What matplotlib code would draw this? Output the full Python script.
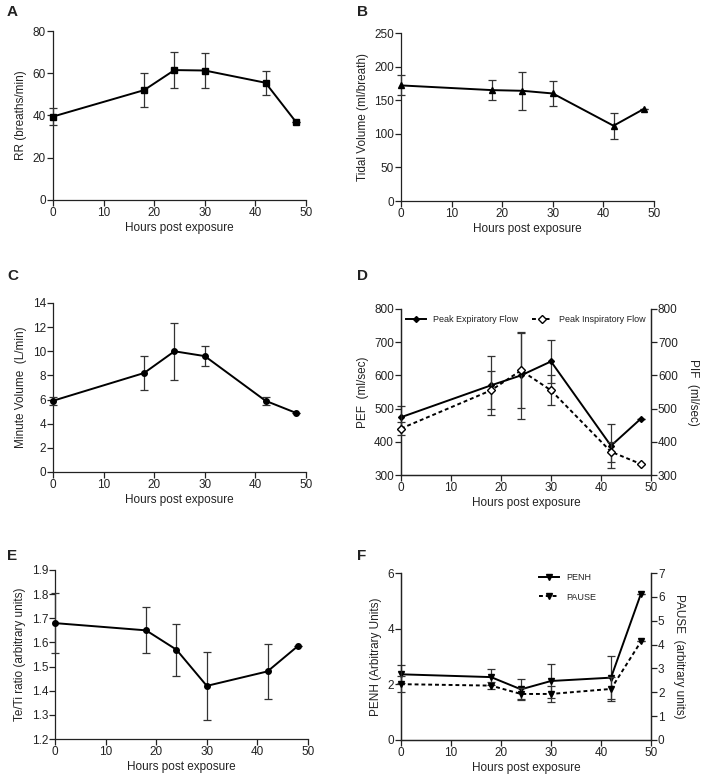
import matplotlib
matplotlib.use("Agg")
import matplotlib.pyplot as plt
from matplotlib.lines import Line2D

plt.rcParams["font.family"] = ["Liberation Sans", "DejaVu Sans"]
plt.rcParams["font.size"] = 8
plt.rcParams["text.color"] = "#222222"
plt.rcParams["axes.labelcolor"] = "#222222"

W, H = 702, 779

# Data
hours = [0, 18, 24, 30, 42, 48]

rr = [39.5, 52, 61.5, 61.3, 55.5, 37]
rr_err = [4, 8, 8.5, 8.3, 5.7, 0]

tv = [172, 165, 164, 160, 112, 137]
tv_err = [15, 15, 28.5, 18.5, 19.5, 0]

mv = [5.9, 8.2, 10.0, 9.6, 5.9, 4.9]
mv_err = [0.35, 1.4, 2.35, 0.83, 0.35, 0]

pef = [474, 570, 600, 642, 388, 470]
pef_err = [35, 88, 130, 66, 66, 0]
pif = [440, 555, 615, 555, 370, 333]
pif_err = [20, 57, 113, 45, 30, 0]

tete = [1.68, 1.65, 1.57, 1.42, 1.48, 1.585]
tete_err = [0.125, 0.095, 0.108, 0.14, 0.114, 0]

penh = [2.36, 2.26, 1.82, 2.12, 2.24, 5.26]
penh_err = [0.32, 0.3, 0.36, 0.6, 0.78, 0]
pause = [2.34, 2.28, 1.93, 1.93, 2.14, 4.13]
pause_err = [0.34, 0.15, 0.25, 0.35, 0.5, 0]

xticks = [0, 10, 20, 30, 40, 50]


def rect(x0, x1, y0, y1):
    return [x0 / W, 1 - y1 / H, (x1 - x0) / W, (y1 - y0) / H]


def style(ax, right=False):
    ax.spines["top"].set_visible(False)
    ax.spines["right"].set_visible(right)
    for s in ax.spines.values():
        s.set_linewidth(0.9)
        s.set_color("#222222")
    ax.tick_params(direction="out", length=4, width=0.9, labelsize=8.5,
                   colors="#222222", pad=1)
    ax.set_xlim(0, 50)
    ax.set_xticks(xticks)
    ax.set_xlabel("Hours post exposure", fontsize=8.5, labelpad=2)


def right_axis(ax2, label):
    ax2.set_ylabel(label, fontsize=8.5, rotation=270, labelpad=15)
    ax2.spines["top"].set_visible(False)
    for s in ax2.spines.values():
        s.set_linewidth(0.9)
        s.set_color("#222222")
    ax2.tick_params(direction="out", length=4, width=0.9, labelsize=8.5,
                    colors="#222222", pad=1)


def series(ax, y, err, marker, ls="-", mfc="black", ms=4.5):
    ax.errorbar(hours, y, yerr=err, color="black", ecolor="#333333",
                elinewidth=0.9, capsize=3, capthick=0.9, lw=1.4, ls=ls,
                marker=marker, ms=ms, mfc=mfc, mec="black", clip_on=False,
                zorder=3)


fig = plt.figure(figsize=(W / 100, H / 100), dpi=100)

# A
ax = fig.add_axes(rect(53, 306, 31, 200))
series(ax, rr, rr_err, "s", ms=4)
ax.set_ylim(0, 80)
ax.set_yticks([0, 20, 40, 60, 80])
ax.set_ylabel("RR (breaths/min)", fontsize=8.5)
style(ax)

# B
ax = fig.add_axes(rect(401, 654, 33, 201))
series(ax, tv, tv_err, "^", ms=4.5)
ax.set_ylim(0, 250)
ax.set_yticks([0, 50, 100, 150, 200, 250])
ax.set_ylabel("Tidal Volume (ml/breath)", fontsize=8.5)
style(ax)

# C
ax = fig.add_axes(rect(53, 306, 303, 472))
series(ax, mv, mv_err, "o", ms=4)
ax.set_ylim(0, 14)
ax.set_yticks(range(0, 15, 2))
ax.set_ylabel("Minute Volume  (L/min)", fontsize=8.5)
style(ax)

# D
ax = fig.add_axes(rect(401, 651, 309, 475))
series(ax, pef, pef_err, "D", ms=3)
ax.set_ylim(300, 800)
ax.set_yticks(range(300, 801, 100))
ax.set_ylabel("PEF  (ml/sec)", fontsize=8.5)
style(ax, right=True)
ax2 = ax.twinx()
series(ax2, pif, pif_err, "D", ls=(0, (2, 1.5)), mfc="white", ms=4.5)
ax2.set_ylim(300, 800)
ax2.set_yticks(range(300, 801, 100))
right_axis(ax2, "PIF  (ml/sec)")
h1 = Line2D([], [], color="black", lw=1.4, marker="D", ms=3)
h2 = Line2D([], [], color="black", lw=1.4, ls=(0, (2, 1.5)), marker="D",
            ms=4.5, mfc="white")
ax.legend([h1, h2], ["Peak Expiratory Flow", "Peak Inspiratory Flow"],
          loc="upper center", ncol=2, frameon=False, fontsize=6.5,
          handlelength=2.2, columnspacing=1.5, borderaxespad=0.3)

# E
ax = fig.add_axes(rect(55, 308, 570, 739))
series(ax, tete, tete_err, "o", ms=4)
ax.set_ylim(1.2, 1.9)
ax.set_yticks([1.2, 1.3, 1.4, 1.5, 1.6, 1.7, 1.8, 1.9])
ax.set_ylabel("Te/Ti ratio (arbitrary units)", fontsize=8.5)
style(ax)

# F
ax = fig.add_axes(rect(401, 651, 573, 740))
series(ax, penh, penh_err, "v", ms=4)
ax.set_ylim(0, 6)
ax.set_yticks([0, 2, 4, 6])
ax.set_ylabel("PENH (Arbitrary Units)", fontsize=8.5)
style(ax, right=True)
ax2 = ax.twinx()
series(ax2, pause, pause_err, "v", ls=(0, (2, 1.5)), ms=4)
ax2.set_ylim(0, 7)
ax2.set_yticks(range(0, 8))
right_axis(ax2, "PAUSE  (arbitrary units)")
h1 = Line2D([], [], color="black", lw=1.4, marker="v", ms=4)
h2 = Line2D([], [], color="black", lw=1.4, ls=(0, (2, 1.5)), marker="v", ms=4)
ax.legend([h1, h2], ["PENH", "PAUSE"], loc="upper left",
          bbox_to_anchor=(0.52, 1.05), frameon=False, fontsize=6.5,
          handlelength=2.2, labelspacing=1.2)

# panel letters
for lab, (x, y) in {"A": (7, 12), "B": (357, 12), "C": (7, 276),
                    "D": (357, 276), "E": (7, 556), "F": (357, 556)}.items():
    fig.text(x / W, 1 - y / H, lab, fontsize=11, fontweight="bold",
             va="center", ha="left")

fig.savefig("out.png", dpi=100)
